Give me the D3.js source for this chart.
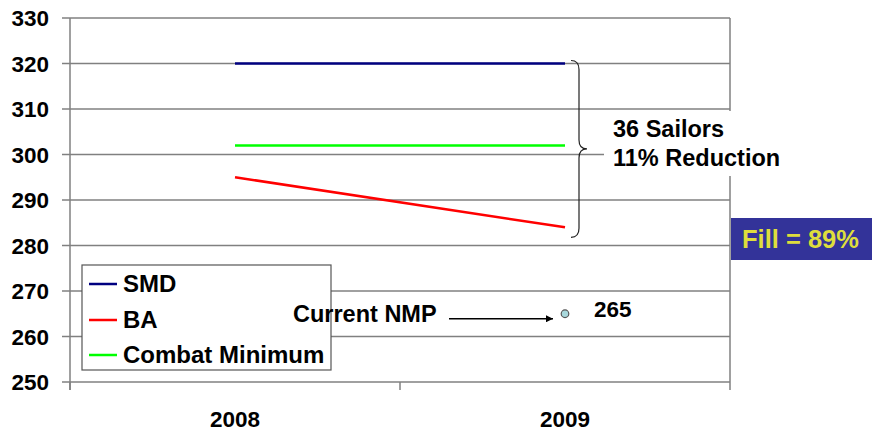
<!DOCTYPE html>
<html>
<head>
<meta charset="utf-8">
<script src="https://cdn.jsdelivr.net/npm/d3@7"></script>
<style>
  html, body { margin: 0; padding: 0; background: #fff; }
  svg { display: block; font-family: "Liberation Sans", Arial, sans-serif; font-weight: bold; }
</style>
</head>
<body>
<div id="chart"></div>
<script>
// chart data
var years = ['2008', '2009'];
var smd = [320, 320];
var ba = [295, 284];
var combatMin = [302, 302];
var yTicks = [250, 260, 270, 280, 290, 300, 310, 320, 330];
var currentNMP = 265;
var seriesNames = ['SMD', 'BA', 'Combat Minimum'];
var seriesColors = ['#000080', '#ff0000', '#00ff00'];

var width = 872, height = 436;
var svg = d3.select('#chart').append('svg')
    .attr('width', width)
    .attr('height', height);

var x = d3.scaleBand().domain(years).range([70, 730]);
var y = d3.scaleLinear().domain([250, 330]).range([382, 18]);
var cx = function (d) { return x(d) + x.bandwidth() / 2; };

// gridlines
svg.append('g').selectAll('line')
    .data(yTicks)
    .enter().append('line')
    .attr('x1', 62).attr('x2', 730)
    .attr('y1', function (d) { return y(d); })
    .attr('y2', function (d) { return y(d); })
    .style('stroke', '#808080')
    .style('stroke-width', 1.5);

// y tick labels
svg.append('g').selectAll('text')
    .data(yTicks)
    .enter().append('text')
    .attr('x', 49)
    .attr('y', function (d) { return y(d) + 8; })
    .attr('text-anchor', 'end')
    .style('font-size', '22.5px')
    .text(function (d) { return d; });

// axis frame
svg.append('line').attr('x1', 70).attr('x2', 70).attr('y1', y(330)).attr('y2', 390)
    .style('stroke', '#808080').style('stroke-width', 1.5);
svg.append('line').attr('x1', 730).attr('x2', 730).attr('y1', y(330)).attr('y2', y(250))
    .style('stroke', '#808080').style('stroke-width', 1.5);
var bounds = years.map(function (d) { return x(d); }).concat([x.range()[1]]);
svg.append('g').selectAll('line')
    .data(bounds)
    .enter().append('line')
    .attr('x1', function (d) { return d; })
    .attr('x2', function (d) { return d; })
    .attr('y1', y(250)).attr('y2', 390)
    .style('stroke', '#808080').style('stroke-width', 1.5);

// x labels
svg.append('g').selectAll('text')
    .data(years)
    .enter().append('text')
    .attr('x', cx)
    .attr('y', 427)
    .attr('text-anchor', 'middle')
    .style('font-size', '22.5px')
    .text(function (d) { return d; });

// series lines
var line = d3.line()
    .x(function (d, i) { return cx(years[i]); })
    .y(function (d) { return y(d); });
[smd, ba, combatMin].forEach(function (s, i) {
    svg.append('path')
        .attr('d', line(s))
        .style('fill', 'none')
        .style('stroke', seriesColors[i])
        .style('stroke-width', 2.5);
});

// brace
var bx = cx(years[1]) + 6;
var bTop = y(smd[1]) - 3, bBot = y(ba[1]) + 10, bMid = (bTop + bBot) / 2;
svg.append('path')
    .attr('d', 'M' + bx + ',' + bTop +
        ' Q' + (bx + 8) + ',' + bTop + ' ' + (bx + 8) + ',' + (bTop + 9) +
        ' L' + (bx + 8) + ',' + (bMid - 9) +
        ' Q' + (bx + 8) + ',' + bMid + ' ' + (bx + 16) + ',' + bMid +
        ' Q' + (bx + 8) + ',' + bMid + ' ' + (bx + 8) + ',' + (bMid + 9) +
        ' L' + (bx + 8) + ',' + (bBot - 9) +
        ' Q' + (bx + 8) + ',' + bBot + ' ' + bx + ',' + bBot)
    .style('fill', 'none')
    .style('stroke', '#222')
    .style('stroke-width', 1.2);

// reduction note
svg.append('rect').attr('x', 604).attr('y', 111).attr('width', 184).attr('height', 65)
    .style('fill', '#fff');
svg.append('text').attr('x', 613).attr('y', 137).style('font-size', '23.5px').text('36 Sailors');
svg.append('text').attr('x', 613).attr('y', 166).style('font-size', '23.5px').text('11% Reduction');

// fill box
svg.append('rect').attr('x', 731).attr('y', 218).attr('width', 141).attr('height', 42)
    .style('fill', '#333399');
svg.append('text').attr('x', 742).attr('y', 248)
    .style('font-size', '25.5px').style('fill', '#dede3c')
    .text('Fill = 89%');

// legend
var legend = svg.append('g');
legend.append('rect').attr('x', 82).attr('y', 265).attr('width', 249).attr('height', 105)
    .style('fill', '#fff').style('stroke', '#555').style('stroke-width', 1.2);
var rowsY = [284, 320, 355];
var item = legend.selectAll('g.item')
    .data(seriesNames)
    .enter().append('g').attr('class', 'item')
    .attr('transform', function (d, i) { return 'translate(0,' + rowsY[i] + ')'; });
item.append('line').attr('x1', 89).attr('x2', 117)
    .style('stroke', function (d, i) { return seriesColors[i]; })
    .style('stroke-width', 2.5);
item.append('text').attr('x', 123).attr('y', 8)
    .style('font-size', '24px')
    .text(function (d) { return d; });

// current NMP point, drawn over the legend
svg.append('defs').append('marker')
    .attr('id', 'arrow')
    .attr('viewBox', '0 0 10 10')
    .attr('refX', 10).attr('refY', 5)
    .attr('markerWidth', 10).attr('markerHeight', 7)
    .attr('markerUnits', 'userSpaceOnUse')
    .attr('orient', 'auto')
    .append('path').attr('d', 'M0,0 L10,5 L0,10 Z').style('fill', '#000');
svg.append('line')
    .attr('x1', 449).attr('x2', cx(years[1]) - 12)
    .attr('y1', y(currentNMP) + 5).attr('y2', y(currentNMP) + 5)
    .style('stroke', '#000').style('stroke-width', 1.3)
    .attr('marker-end', 'url(#arrow)');
svg.append('circle')
    .attr('cx', cx(years[1]))
    .attr('cy', y(currentNMP))
    .attr('r', 3.8)
    .style('fill', '#a8d8dc')
    .style('stroke', '#555')
    .style('stroke-width', 1.2);
svg.append('text').attr('x', 293).attr('y', 322).style('font-size', '23.5px').text('Current NMP');
svg.append('text').attr('x', cx(years[1]) + 29).attr('y', 317).style('font-size', '22.5px').text(currentNMP);
</script>
</body>
</html>
